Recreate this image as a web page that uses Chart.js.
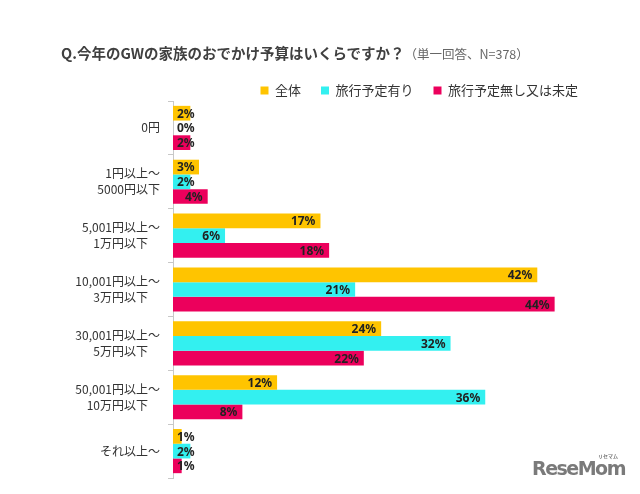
<!DOCTYPE html>
<html>
<head>
<meta charset="utf-8">
<script src="https://cdn.jsdelivr.net/npm/chart.js@4.4.1/dist/chart.umd.min.js"></script>
<style>
  body { margin: 0; background: #fff; }
  #wrap { position: relative; width: 640px; height: 494px; font-family: "Noto Sans CJK JP", sans-serif; }
  #title { position: absolute; left: 61px; top: 40px; white-space: nowrap; color: #404040; }
  #title b { font-size: 14.5px; font-weight: 700; }
  #title span { font-size: 12.5px; color: #666; }
  #logo { position: absolute; left: 532px; top: 457px; font-family: "DejaVu Sans", sans-serif; font-weight: 700; font-size: 19px; color: #7a7a7a; letter-spacing: -1.5px; }
  #logo small { position: absolute; left: 66px; top: -5px; font-size: 5px; letter-spacing: 0; font-family: "Noto Sans CJK JP"; }
</style>
</head>
<body>
<div id="wrap">
  <canvas id="chart" width="640" height="494"></canvas>
  <div id="title"><b>Q.今年のGWの家族のおでかけ予算はいくらですか？</b><span>（単一回答、N=378）</span></div>
  <div id="logo">ReseMom<small>リセマム</small></div>
</div>
<script>
const categories = [
  ["0円"],
  ["1円以上～", "5000円以下"],
  ["5,001円以上～", "1万円以下　"],
  ["10,001円以上～", "3万円以下　"],
  ["30,001円以上～", "5万円以下　"],
  ["50,001円以上～", "10万円以下　"],
  ["それ以上～"],
];
const seriesNames = ["全体", "旅行予定有り", "旅行予定無し又は未定"];
const allValues = [2, 3, 17, 42, 24, 12, 1];
const travelValues = [0, 2, 6, 21, 32, 36, 2];
const noTravelValues = [2, 4, 18, 44, 22, 8, 1];

// labels at the bar end, pushed right when the bar is too short
const barLabels = {
  id: "barLabels",
  afterInit(chart) {
    // legend sits a bit closer to the bars than chart.js leaves room for
    const lg = chart.legend;
    const fit = lg.fit.bind(lg);
    lg.fit = function () { fit(); this.height -= 6; };
  },
  afterDatasetsDraw(chart) {
    const c = chart.ctx;
    c.save();
    c.font = "bold 12px 'Noto Sans', sans-serif";
    c.fillStyle = "#222";
    c.textBaseline = "middle";
    c.textAlign = "right";
    chart.data.datasets.forEach((ds, i) => {
      chart.getDatasetMeta(i).data.forEach((bar, j) => {
        const txt = ds.data[j] + "%";
        const w = c.measureText(txt).width;
        const right = Math.max(bar.x - 5, bar.base + 4 + w);
        c.fillText(txt, right, bar.y + 1);
      });
    });
    c.restore();
  },
};

new Chart(document.getElementById("chart"), {
  type: "bar",
  data: {
    labels: categories,
    datasets: [
      { label: seriesNames[0], data: allValues, backgroundColor: "#FFC400" },
      { label: seriesNames[1], data: travelValues, backgroundColor: "#33F0F0" },
      { label: seriesNames[2], data: noTravelValues, backgroundColor: "#EC005C" },
    ],
  },
  options: {
    indexAxis: "y",
    responsive: false,
    animation: false,
    layout: { padding: { top: 64, right: 42, bottom: 13, left: 40 } },
    datasets: { bar: { categoryPercentage: 0.82, barPercentage: 1.0 } },
    scales: {
      x: { display: false, min: 0, max: 49 },
      y: {
        afterFit(scale) { scale.width = 133; },
        grid: { drawOnChartArea: false, offset: true, color: "#c8c8c8", tickLength: 5 },
        border: { color: "#c8c8c8" },
        ticks: { color: "#333", font: { family: "'Noto Sans CJK JP'", size: 12, lineHeight: 1.33 }, padding: 8 },
      },
    },
    plugins: {
      legend: {
        position: "top",
        align: "end",
        labels: {
          boxWidth: 8,
          boxHeight: 8,
          padding: 20,
          color: "#333",
          font: { family: "'Noto Sans CJK JP'", size: 13 },
        },
      },
      tooltip: { enabled: false },
    },
  },
  plugins: [barLabels],
});
</script>
</body>
</html>
